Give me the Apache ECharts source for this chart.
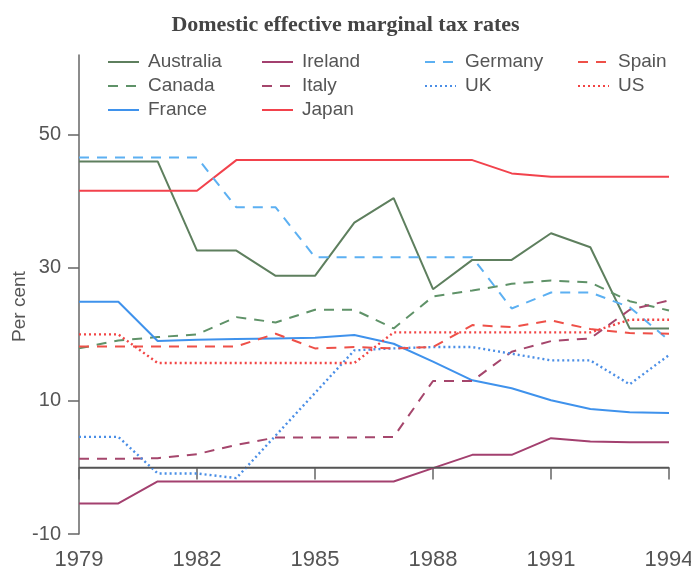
<!DOCTYPE html>
<html>
<head>
<meta charset="utf-8">
<script src="https://cdn.jsdelivr.net/npm/echarts@6/dist/echarts.min.js"></script>
<style>html,body{margin:0;padding:0;background:#fff;}#chart{width:691px;height:574px;}</style>
</head>
<body>
<div id="chart"></div>
<script>
var years = [1979,1980,1981,1982,1983,1984,1985,1986,1987,1988,1989,1990,1991,1992,1993,1994];
var xTicks = [1979,1982,1985,1988,1991,1994];
var yTicks = [-10,10,30,50];

var australia = [46.0,46.0,46.0,32.6,32.6,28.8,28.8,36.8,40.5,26.8,31.2,31.2,35.2,33.1,20.9,20.9];
var canada    = [17.9,19.1,19.6,20.0,22.6,21.8,23.7,23.7,20.9,25.7,26.6,27.6,28.1,27.8,25.0,23.6];
var france    = [24.9,24.9,19.0,19.2,19.3,19.4,19.5,19.9,18.6,15.9,13.1,11.9,10.1,8.8,8.3,8.2];
var ireland   = [-5.4,-5.4,-2.1,-2.1,-2.1,-2.1,-2.1,-2.1,-2.1,-0.1,1.9,1.9,4.4,3.9,3.8,3.8];
var italy     = [1.3,1.3,1.4,2.0,3.4,4.5,4.5,4.5,4.6,13.0,13.0,17.4,19.0,19.4,23.7,25.1];
var japan     = [41.6,41.6,41.6,41.6,46.2,46.2,46.2,46.2,46.2,46.2,46.2,44.2,43.7,43.7,43.7,43.7];
var germany   = [46.6,46.6,46.6,46.6,39.1,39.1,31.6,31.6,31.6,31.6,31.6,23.9,26.3,26.3,24.1,19.1];
var uk        = [4.6,4.6,-0.9,-0.9,-1.6,4.8,11.2,17.6,17.9,18.1,18.1,17.1,16.1,16.1,12.5,16.9];
var spain     = [18.2,18.2,18.2,18.2,18.2,20.1,17.9,18.1,17.9,18.1,21.4,21.1,22.1,20.8,20.2,20.1];
var us        = [20.0,20.0,15.7,15.7,15.7,15.7,15.7,15.7,20.3,20.3,20.3,20.3,20.3,20.3,22.2,22.2];

function pairs(vals){ return years.map(function(y,i){ return [y, vals[i]]; }); }

var FONT = 'Liberation Sans, Arial, sans-serif';
var DASH = [10,8];
var DOT = [2,3];

function mk(name, vals, color, type, width){
  return {
    name: name, type: 'line', data: pairs(vals), symbol: 'none',
    lineStyle: {color: color, type: type, width: width || 2},
    itemStyle: {color: 'rgba(0,0,0,0)', borderWidth: 0},
    emphasis: {disabled: true}
  };
}

var series = [
  mk('Australia', australia, '#5e7f5e', 'solid', 2),
  mk('Canada', canada, '#5f9268', DASH, 2),
  mk('France', france, '#3f92ec', 'solid', 2),
  mk('Ireland', ireland, '#a3406f', 'solid', 2),
  mk('Italy', italy, '#a5466c', DASH, 2),
  mk('Japan', japan, '#f2424c', 'solid', 2),
  mk('Germany', germany, '#5cb0f2', DASH, 2),
  mk('UK', uk, '#4a8ee6', DOT, 2.4),
  mk('Spain', spain, '#ee5048', DASH, 2),
  mk('US', us, '#f24444', DOT, 2.4)
];
series[0].markLine = {
  silent: true, symbol: 'none', label: {show: false},
  lineStyle: {color: '#555', type: 'solid', width: 1.3},
  data: [{yAxis: 0}]
};

function legendCol(left, names){
  return {
    left: left, top: 50, orient: 'vertical', padding: 0,
    itemWidth: 31, itemHeight: 12, itemGap: 0,
    itemStyle: {opacity: 0},
    textStyle: {fontFamily: FONT, fontSize: 19, color: '#555', lineHeight: 24, padding: [0,0,0,4]},
    data: names
  };
}

var chart = echarts.init(document.getElementById('chart'));
chart.setOption({
  animation: false,
  backgroundColor: '#fff',
  title: {
    text: 'Domestic effective marginal tax rates',
    left: 'center', top: 9,
    textStyle: {fontFamily: 'Liberation Serif, Times New Roman, serif', fontWeight: 'bold', fontSize: 22, color: '#444'}
  },
  legend: [
    legendCol(107, ['Australia','Canada','France']),
    legendCol(261, ['Ireland','Italy','Japan']),
    legendCol(424, ['Germany','UK']),
    legendCol(577, ['Spain','US'])
  ],
  grid: {left: 79, right: 22, top: 55, bottom: 40, containLabel: false, outerBoundsMode: 'none'},
  xAxis: {
    type: 'value', min: 1979, max: 1994, interval: 3,
    axisLine: {show: true, lineStyle: {color: '#666', width: 1.5}},
    axisTick: {show: true, length: 12, lineStyle: {color: '#666', width: 1.5}, customValues: xTicks},
    axisLabel: {fontFamily: FONT, fontSize: 22, color: '#555', margin: 15, customValues: xTicks, formatter: function(v){ return String(v); }},
    splitLine: {show: false}
  },
  yAxis: {
    type: 'value', min: -10, max: 62, interval: 20,
    name: 'Per cent', nameLocation: 'middle', nameGap: 50, nameRotate: 90, nameMoveOverlap: false,
    nameTextStyle: {fontFamily: FONT, fontSize: 19, color: '#555', padding: [0,24,0,0]},
    axisLine: {show: true, lineStyle: {color: '#666', width: 1.5}},
    axisTick: {show: true, length: 11, lineStyle: {color: '#666', width: 1.5}, customValues: yTicks},
    axisLabel: {fontFamily: FONT, fontSize: 20, color: '#555', margin: 18, customValues: yTicks},
    splitLine: {show: false}
  },
  series: series
});
</script>
</body>
</html>
